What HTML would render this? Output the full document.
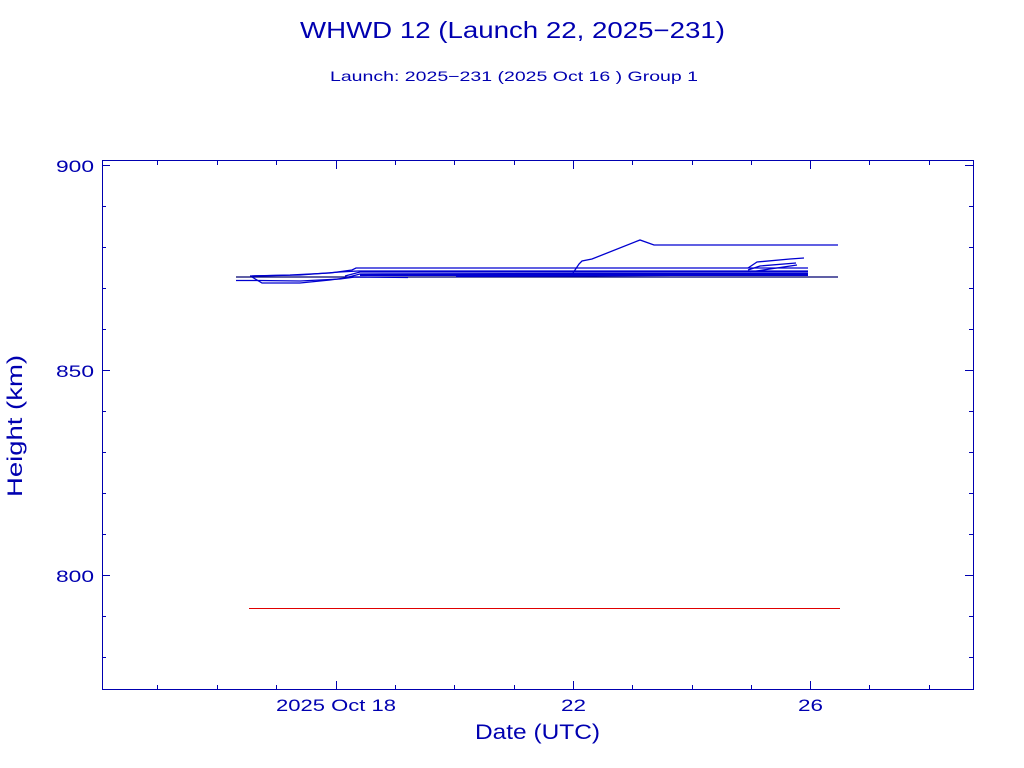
<!DOCTYPE html>
<html><head><meta charset="utf-8"><style>
html,body{margin:0;padding:0;background:#fff;}
svg{display:block;}
text{font-family:"Liberation Sans",sans-serif;fill:#0000b0;}
</style></head><body>
<svg width="1024" height="768" viewBox="0 0 1024 768" xmlns="http://www.w3.org/2000/svg">
<text x="300" y="38" font-size="23" textLength="425" lengthAdjust="spacingAndGlyphs">WHWD 12 (Launch 22, 2025−231)</text>
<text x="330" y="81" font-size="14" textLength="368" lengthAdjust="spacingAndGlyphs">Launch: 2025−231  (2025 Oct 16 )  Group 1</text>
<rect x="102.5" y="160.5" width="871" height="529" fill="none" stroke="#0000b0" stroke-width="1"/>
<g stroke="#0000b0" stroke-width="1">
<path d="M102 165.5h8M102 370.5h8M102 575.5h8M973 165.5h-8M973 370.5h-8M973 575.5h-8"/>
<path d="M102 206.5h4M102 247.5h4M102 288.5h4M102 329.5h4M102 411.5h4M102 452.5h4M102 493.5h4M102 534.5h4M102 616.5h4M102 657.5h4
M973 206.5h-4M973 247.5h-4M973 288.5h-4M973 329.5h-4M973 411.5h-4M973 452.5h-4M973 493.5h-4M973 534.5h-4M973 616.5h-4M973 657.5h-4"/>
<path d="M336.5 689v-8M573.5 689v-8M810.5 689v-8M336.5 161v8M573.5 161v8M810.5 161v8"/>
<path d="M157.5 689v-4M217.5 689v-4M276.5 689v-4M395.5 689v-4M454.5 689v-4M514.5 689v-4M632.5 689v-4M692.5 689v-4M751.5 689v-4M869.5 689v-4M929.5 689v-4
M157.5 161v4M217.5 161v4M276.5 161v4M395.5 161v4M454.5 161v4M514.5 161v4M632.5 161v4M692.5 161v4M751.5 161v4M869.5 161v4M929.5 161v4"/>
</g>
<g font-size="17">
<text x="56" y="172" textLength="38" lengthAdjust="spacingAndGlyphs">900</text>
<text x="56" y="377" textLength="38" lengthAdjust="spacingAndGlyphs">850</text>
<text x="56" y="582" textLength="38" lengthAdjust="spacingAndGlyphs">800</text>
<text x="276" y="711" textLength="120" lengthAdjust="spacingAndGlyphs">2025 Oct 18</text>
<text x="561" y="711" textLength="25" lengthAdjust="spacingAndGlyphs">22</text>
<text x="798" y="711" textLength="25" lengthAdjust="spacingAndGlyphs">26</text>
</g>
<text x="475" y="739" font-size="21" textLength="125" lengthAdjust="spacingAndGlyphs">Date (UTC)</text>
<text transform="translate(22,497) rotate(-90)" font-size="21" textLength="142" lengthAdjust="spacingAndGlyphs">Height (km)</text>
<g fill="none" stroke="#0000d0" stroke-width="1.3">
<polyline points="236,277 838,277" stroke="#000070"/>
<polyline points="236,280.5 260,280.5 300,281 340,279 355,277 408,277.5"/>
<polyline points="252,277 262,283 300,283 330,280 345,278 360,274 580,273.5 808,273.5"/>
<polyline points="252,276 290,275 330,273 352,270 356,268 808,268"/>
<polyline points="250,276 300,275 340,272 358,271 808,271"/>
<polyline points="345,276 360,272 808,272"/>
<polyline points="360,275 808,275" stroke-width="2"/>
<polyline points="456,276.5 573,276 808,274.5"/>
<polyline points="573,273 579,264 582,261 592,259 640,240 654,245 838,245"/>
<polyline points="748,268 757,262 790,259 804,258"/>
<polyline points="748,270 760,266 796,263"/>
<polyline points="750,272 770,269 797,265"/>
</g>
<line x1="249" y1="608.5" x2="840" y2="608.5" stroke="#e00000" stroke-width="1"/>
</svg>
</body></html>
